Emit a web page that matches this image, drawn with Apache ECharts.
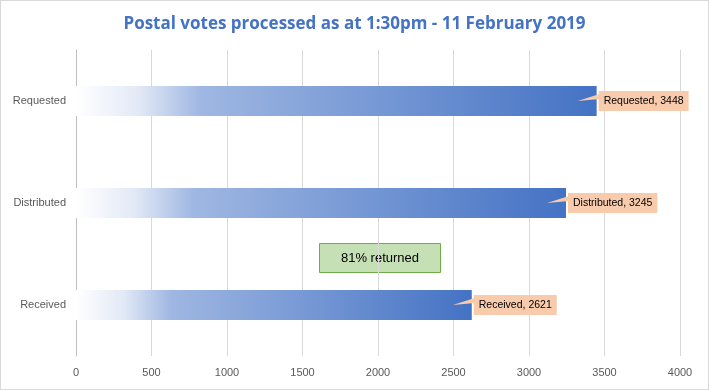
<!DOCTYPE html>
<html><head><meta charset="utf-8">
<script src="https://cdn.jsdelivr.net/npm/echarts@6/dist/echarts.min.js"></script>
<style>html,body{margin:0;padding:0;background:#fff}#c{width:709px;height:390px;box-sizing:border-box;border:1px solid #d9d9d9}</style>
</head><body><div id="c"></div>
<script>
const categories = ['Requested', 'Distributed', 'Received'];
const values = [3448, 3245, 2621];
const xTicks = { min: 0, max: 4000, interval: 500 };
const titleText = 'Postal votes processed as at 1:30pm - 11 February 2019';
const noteText = '81% returned';

const chart = echarts.init(document.getElementById('c'));
const grad = new echarts.graphic.LinearGradient(0, 0, 1, 0, [
  { offset: 0, color: '#ffffff' },
  { offset: 0.12, color: '#e2e9f6' },
  { offset: 0.24, color: '#9fb7e2' },
  { offset: 1, color: '#4472C4' }
]);
chart.setOption({
  animation: false,
  title: { text: titleText, left: 'center', top: 10,
    textStyle: { color: '#4472C4', fontFamily: 'Open Sans', fontWeight: 'bold', fontSize: 17 } },
  grid: { left: 75, right: 28, top: 49, bottom: 33 },
  xAxis: { type: 'value', min: xTicks.min, max: xTicks.max, interval: xTicks.interval,
    axisLine: { show: false }, axisTick: { show: false },
    axisLabel: { color: '#595959', fontFamily: 'Liberation Sans', fontSize: 11, margin: 11,
      formatter: v => String(v) },
    splitLine: { lineStyle: { color: '#d9d9d9', width: 1 } } },
  yAxis: { type: 'category', data: categories, inverse: true,
    axisLine: { show: true, lineStyle: { color: '#bfbfbf', width: 1 } }, axisTick: { show: false },
    axisLabel: { color: '#595959', fontFamily: 'Liberation Sans', fontSize: 11, margin: 10 } },
  series: [
    { type: 'bar', data: values, barWidth: 30, itemStyle: { color: grad },
      label: { show: true, position: 'right', distance: 2, formatter: '{b}, {c}',
        backgroundColor: '#F8CBAD', padding: [5, 5, 4, 5], color: '#000',
        fontFamily: 'Liberation Sans', fontSize: 10.5 }, z: 2 },
    { type: 'custom', z: 3, data: values.map((v, i) => [v, i]),
      renderItem: function (params, api) {
        const p = api.coord([api.value(0), api.value(1)]);
        return { type: 'polygon', shape: { points: [[p[0] - 19, p[1]], [p[0] + 3, p[1] - 7], [p[0] + 3, p[1] - 2]] },
          style: { fill: '#F8CBAD' } };
      } }
  ],
  graphic: [
    { type: 'group', left: 318, top: 242, children: [
      { type: 'rect', shape: { width: 121, height: 29 }, style: { fill: '#C5E0B4', stroke: '#70AD47', lineWidth: 1 } },
      { type: 'text', x: 60.5, y: 15, style: { text: noteText, align: 'center', verticalAlign: 'middle',
        font: '13px "Liberation Sans"', fill: '#000' } }
    ] }
  ]
});
</script></body></html>
